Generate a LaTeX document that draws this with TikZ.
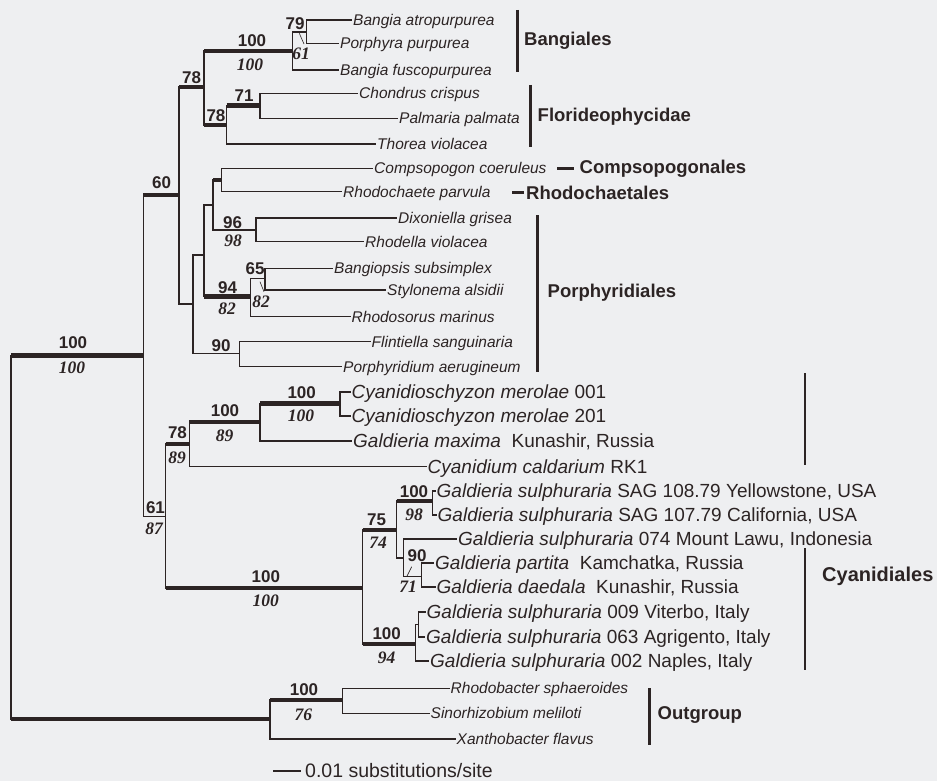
\documentclass[tikz,border=0pt]{standalone}
\usepackage{fontspec}
\setmainfont{Liberation Sans}
\newfontfamily\tms{Liberation Serif}
\definecolor{ink}{RGB}{44,36,36}
\definecolor{paper}{RGB}{238,239,241}
\begin{document}
\begin{tikzpicture}[x=1pt,y=-1pt,
  br/.style={draw=ink,line width=1.1pt},
  bar/.style={draw=ink,line width=4.5pt},
  clade/.style={draw=ink,line width=2.6pt},
  ptr/.style={draw=ink,line width=.6pt},
  sp/.style={anchor=west,inner sep=1pt,text height=11.2pt,text depth=0pt,text=ink,
    font=\fontsize{15.5}{18}\selectfont\itshape},
  cy/.style={anchor=west,inner sep=1pt,text height=13.7pt,text depth=0pt,text=ink,
    font=\fontsize{19}{22}\selectfont},
  bs/.style={inner sep=0pt,text=ink,font=\fontsize{17}{19}\selectfont\bfseries},
  pp/.style={inner sep=0pt,text=ink,font=\fontsize{17.5}{19}\selectfont\tms\bfseries\itshape},
  grp/.style={anchor=west,inner sep=1pt,text=ink,font=\fontsize{18.5}{21}\selectfont\bfseries}]
\fill[paper] (0,0) rectangle (937,781);
\useasboundingbox (0,0) rectangle (937,781);

% inner nodes of the tree
\coordinate (root) at (11,537);
\coordinate (nA) at (143.3,355.7);
\coordinate (nB) at (179,195);
\coordinate (nC) at (204,87);
\coordinate (nD) at (292.7,51);
\coordinate (nE) at (306.7,32);
\coordinate (nF) at (226.7,125);
\coordinate (nG) at (260,105.7);
\coordinate (nH) at (193,304);
\coordinate (nI) at (204,255);
\coordinate (nK) at (213,205);
\coordinate (nM) at (221.7,180);
\coordinate (nN) at (256,230);
\coordinate (nL) at (250.7,296.7);
\coordinate (nO) at (265,278.3);
\coordinate (nJ) at (239.3,353.3);
\coordinate (nP) at (165.7,516.7);
\coordinate (nQ) at (189.3,444);
\coordinate (nR) at (260,422);
\coordinate (nS) at (340,403.3);
\coordinate (nT) at (362.7,588);
\coordinate (nU) at (396.7,530);
\coordinate (nV) at (432.7,501);
\coordinate (nW) at (403.3,558);
\coordinate (nX) at (421.7,576.5);
\coordinate (nY) at (415.3,644);
\coordinate (nZ) at (418.3,624.5);
\coordinate (nOg) at (270,719);
\coordinate (nOa) at (342.7,700);

% taxa
\node[sp] (bat) at (352,20) {Bangia atropurpurea};
\node[sp] (ppu) at (339,43.3) {Porphyra purpurea};
\node[sp] (bfu) at (339,70) {Bangia fuscopurpurea};
\node[sp] (ccr) at (358,93.3) {Chondrus crispus};
\node[sp] (ppa) at (398,118.3) {Palmaria palmata};
\node[sp] (tvi) at (376,144) {Thorea violacea};
\node[sp] (cco) at (373,168.3) {Compsopogon coeruleus};
\node[sp] (rpa) at (342,191.7) {Rhodochaete parvula};
\node[sp] (dgr) at (397,218) {Dixoniella grisea};
\node[sp] (rvi) at (364,241.7) {Rhodella violacea};
\node[sp] (bsu) at (333,268.3) {Bangiopsis subsimplex};
\node[sp] (sal) at (386,290) {Stylonema alsidii};
\node[sp] (rma) at (350.5,316.7) {Rhodosorus marinus};
\node[sp] (fsa) at (370.5,341.7) {Flintiella sanguinaria};
\node[sp] (pae) at (342,366.7) {Porphyridium aerugineum};

\node[cy] (cm1) at (350.5,392) {\textit{Cyanidioschyzon merolae} 001};
\node[cy] (cm2) at (350.5,416) {\textit{Cyanidioschyzon merolae} 201};
\node[cy] (gma) at (352,441) {\textit{Galdieria maxima}\ \ Kunashir, Russia};
\node[cy] (cca) at (426.5,466.7) {\textit{Cyanidium caldarium} RK1};
\node[cy] (g108) at (435.5,491) {\textit{Galdieria sulphuraria} SAG 108.79 Yellowstone, USA};
\node[cy] (g107) at (436.5,515) {\textit{Galdieria sulphuraria} SAG 107.79 California, USA};
\node[cy] (g074) at (457,539) {\textit{Galdieria sulphuraria} 074 Mount Lawu, Indonesia};
\node[cy] (gpa) at (434,563) {\textit{Galdieria partita}\ \ Kamchatka, Russia};
\node[cy] (gda) at (435.5,587) {\textit{Galdieria daedala}\ \ Kunashir, Russia};
\node[cy] (g009) at (425.5,612) {\textit{Galdieria sulphuraria} 009 Viterbo, Italy};
\node[cy] (g063) at (425,637) {\textit{Galdieria sulphuraria} 063 Agrigento, Italy};
\node[cy] (g002) at (429,661) {\textit{Galdieria sulphuraria} 002 Naples, Italy};

\node[sp] (rsp) at (449.5,688.3) {Rhodobacter sphaeroides};
\node[sp] (sme) at (429.5,713.3) {Sinorhizobium meliloti};
\node[sp] (xfl) at (455.5,739) {Xanthobacter flavus};

% branches
\draw[br] (root) |- (nA) (root) |- (nOg);
\draw[br] (nA) |- (nB) (nA) |- (nP);
\draw[br] (nB) |- (nC) (nB) |- (nH);
\draw[br] (nC) |- (nD) (nC) |- (nF);
\draw[br] (nD) |- (nE) (nD) |- (bfu.west);
\draw[br] (nE) |- (bat.west) (nE) |- (ppu.west);
\draw[br] (nF) |- (nG) (nF) |- (tvi.west);
\draw[br] (nG) |- (ccr.west) (nG) |- (ppa.west);
\draw[br] (nH) |- (nI) (nH) |- (nJ);
\draw[br] (nI) |- (nK) (nI) |- (nL);
\draw[br] (nK) |- (nM) (nK) |- (nN);
\draw[br] (nM) |- (cco.west) (nM) |- (rpa.west);
\draw[br] (nN) |- (dgr.west) (nN) |- (rvi.west);
\draw[br] (nL) |- (nO) (nL) |- (rma.west);
\draw[br] (nO) |- (bsu.west) (nO) |- (sal.west);
\draw[br] (nJ) |- (fsa.west) (nJ) |- (pae.west);
\draw[br] (nP) |- (nQ) (nP) |- (nT);
\draw[br] (nQ) |- (nR) (nQ) |- (cca.west);
\draw[br] (nR) |- (nS) (nR) |- (gma.west);
\draw[br] (nS) |- (cm1.west) (nS) |- (cm2.west);
\draw[br] (nT) |- (nU) (nT) |- (nY);
\draw[br] (nU) |- (nV) (nU) |- (nW);
\draw[br] (nV) |- (g108.west) (nV) |- (g107.west);
\draw[br] (nW) |- (g074.west) (nW) |- (nX);
\draw[br] (nX) |- (gpa.west) (nX) |- (gda.west);
\draw[br] (nY) |- (nZ) (nY) |- (g002.west);
\draw[br] (nZ) |- (g009.west) (nZ) |- (g063.west);
\draw[br] (nOg) |- (nOa) (nOg) |- (xfl.west);
\draw[br] (nOa) |- (rsp.west) (nOa) |- (sme.west);

% well supported branches
\draw[bar] (root |- nA) -- (nA) (root |- nOg) -- (nOg);
\draw[bar] (nA |- nB) -- (nB);
\draw[bar] (nB |- nC) -- (nC);
\draw[bar] (nC |- nD) -- (nD) (nC |- nF) -- (nF);
\draw[bar] (nF |- nG) -- (nG);
\draw[bar] (nK |- nM) -- (nM);
\draw[bar] (nI |- nL) -- (nL);
\draw[bar] (nP |- nQ) -- (nQ) (nP |- nT) -- (nT);
\draw[bar] (nQ |- nR) -- (nR);
\draw[bar] (nR |- nS) -- (nS);
\draw[bar] (nT |- nU) -- (nU) (nT |- nY) -- (nY);
\draw[bar] (nU |- nV) -- (nV);
\draw[bar] (nOg |- nOa) -- (nOa);

% support values
\node[bs] (lA) at (73,343) {100};
\node[pp] (mA) at (72,367.5) {100};
\node[bs] (lB) at (161.7,183) {60};
\node[bs] (lC) at (191.7,77.5) {78};
\node[bs] (lD) at (252,41) {100};
\node[pp] (mD) at (250,65) {100};
\node[bs] (lE) at (295,24) {79};
\node[pp] (mE) at (301,54) {61};
\node[bs] (lF) at (216,116) {78};
\node[bs] (lG) at (244,96) {71};
\node[bs] (lN) at (232.5,222.5) {96};
\node[pp] (mN) at (233,241) {98};
\node[bs] (lL) at (227.5,287.5) {94};
\node[pp] (mL) at (227,309) {82};
\node[bs] (lO) at (255,269) {65};
\node[pp] (mO) at (261,302) {82};
\node[bs] (lJ) at (221,346) {90};
\node[bs] (lP) at (155.5,508) {61};
\node[pp] (mP) at (154,529) {87};
\node[bs] (lQ) at (177.5,432.5) {78};
\node[pp] (mQ) at (177,457.5) {89};
\node[bs] (lR) at (225,411) {100};
\node[pp] (mR) at (224.7,436) {89};
\node[bs] (lS) at (301.7,392.5) {100};
\node[pp] (mS) at (301,416) {100};
\node[bs] (lT) at (265.8,576.7) {100};
\node[pp] (mT) at (265.8,601) {100};
\node[bs] (lU) at (376.7,520) {75};
\node[pp] (mU) at (378,542.7) {74};
\node[bs] (lV) at (414,491.7) {100};
\node[pp] (mV) at (414,515) {98};
\node[bs] (lX) at (417,556) {90};
\node[pp] (mX) at (408,587) {71};
\node[bs] (lY) at (386.7,633.3) {100};
\node[pp] (mY) at (386.7,657.5) {94};
\node[bs] (lOa) at (304,690) {100};
\node[pp] (mOa) at (303.3,715) {76};
\draw[ptr] (299.3,33.3) -- (304,44);
\draw[ptr] (260,281.7) -- (264,291.7);
\draw[ptr] (406.7,576.7) -- (411.7,566.7);

% orders
\draw[clade] (517.3,10) -- (517.3,71.7);
\node[grp] (bang) at (523,40.7) {Bangiales};
\draw[clade] (530.7,85) -- (530.7,146.7);
\node[grp] (flor) at (536.5,116.7) {Florideophycidae};
\draw[clade] (557.3,168.3) -- (574,168.3);
\node[grp] (comp) at (578.5,168.3) {Compsopogonales};
\draw[clade] (512.3,192.7) -- (524,192.7);
\node[grp] (rhod) at (525,192.7) {Rhodochaetales};
\draw[clade] (537.3,215) -- (537.3,371.7);
\node[grp] (porp) at (546.5,292.7) {Porphyridiales};
\draw[clade] (805,373.3) -- (805,465) (805,548.3) -- (805,670);
\node[grp,font=\fontsize{20}{22}\selectfont\bfseries] (cyan) at (821,576.7) {Cyanidiales};
\draw[clade] (649.3,688) -- (649.3,745);
\node[grp] (outg) at (656.5,715) {Outgroup};

% scale
\node[anchor=west,inner xsep=4pt,inner ysep=1pt,text=ink,font=\fontsize{19.5}{22}\selectfont] (scl) at (301,771) {0.01 substitutions/site};
\draw[br] (273.3,771) -- (scl.west);
\end{tikzpicture}
\end{document}
